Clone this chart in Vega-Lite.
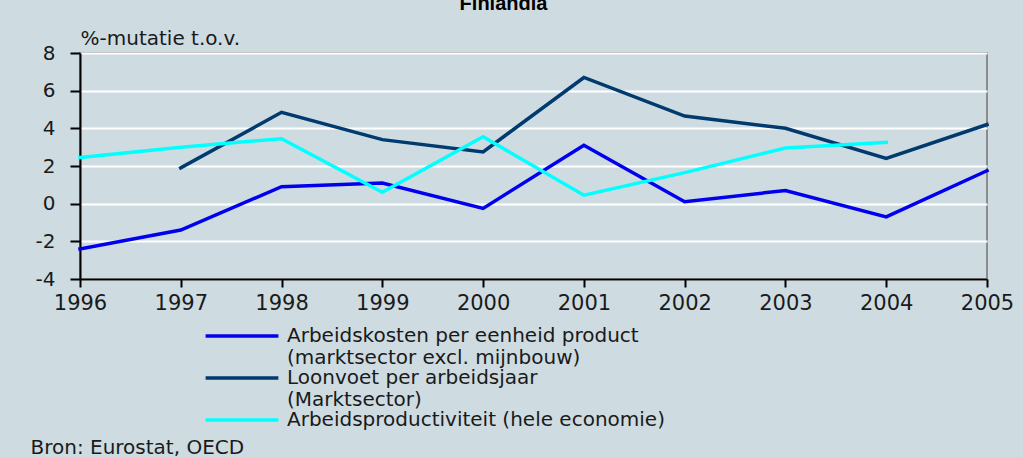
{
  "$schema": "https://vega.github.io/schema/vega-lite/v6.json",
  "width": 907,
  "height": 226,
  "autosize": {"type": "none"},
  "padding": {"left": 80, "top": 53, "right": 36, "bottom": 178},
  "background": "#cedce2",
  "title": {
    "text": "Finlandia",
    "font": "Liberation Sans",
    "fontSize": 20,
    "fontWeight": "bold",
    "color": "#000000",
    "anchor": "middle",
    "frame": "group",
    "dx": -30,
    "dy": -10
  },
  "config": {
    "view": {"fill": "#cedce2", "stroke": "#8c8c8c", "strokeWidth": 2},
    "font": "DejaVu Sans"
  },
  "data": {
    "values": [
      {"year": 1996, "series": "Arbeidskosten", "value": -2.4},
      {"year": 1997, "series": "Arbeidskosten", "value": -1.4},
      {"year": 1998, "series": "Arbeidskosten", "value": 0.9},
      {"year": 1999, "series": "Arbeidskosten", "value": 1.1},
      {"year": 2000, "series": "Arbeidskosten", "value": -0.25},
      {"year": 2001, "series": "Arbeidskosten", "value": 3.1},
      {"year": 2002, "series": "Arbeidskosten", "value": 0.1},
      {"year": 2003, "series": "Arbeidskosten", "value": 0.7},
      {"year": 2004, "series": "Arbeidskosten", "value": -0.7},
      {"year": 2005, "series": "Arbeidskosten", "value": 1.75},
      {"year": 1997, "series": "Loonvoet", "value": 1.9},
      {"year": 1998, "series": "Loonvoet", "value": 4.85},
      {"year": 1999, "series": "Loonvoet", "value": 3.4},
      {"year": 2000, "series": "Loonvoet", "value": 2.75},
      {"year": 2001, "series": "Loonvoet", "value": 6.7},
      {"year": 2002, "series": "Loonvoet", "value": 4.65},
      {"year": 2003, "series": "Loonvoet", "value": 4.0},
      {"year": 2004, "series": "Loonvoet", "value": 2.4},
      {"year": 2005, "series": "Loonvoet", "value": 4.2},
      {"year": 1996, "series": "Arbeidsproductiviteit", "value": 2.45},
      {"year": 1997, "series": "Arbeidsproductiviteit", "value": 3.0},
      {"year": 1998, "series": "Arbeidsproductiviteit", "value": 3.45},
      {"year": 1999, "series": "Arbeidsproductiviteit", "value": 0.6},
      {"year": 2000, "series": "Arbeidsproductiviteit", "value": 3.55},
      {"year": 2001, "series": "Arbeidsproductiviteit", "value": 0.45},
      {"year": 2002, "series": "Arbeidsproductiviteit", "value": 1.65},
      {"year": 2003, "series": "Arbeidsproductiviteit", "value": 2.95},
      {"year": 2004, "series": "Arbeidsproductiviteit", "value": 3.25}
    ]
  },
  "mark": {"type": "line", "strokeCap": "square", "strokeJoin": "miter"},
  "encoding": {
    "x": {
      "field": "year",
      "type": "quantitative",
      "scale": {"domain": [1996, 2005], "nice": false, "zero": false},
      "axis": {
        "values": [1996, 1997, 1998, 1999, 2000, 2001, 2002, 2003, 2004, 2005],
        "format": "d",
        "grid": false,
        "domainColor": "#000000",
        "domainWidth": 2,
        "tickColor": "#000000",
        "tickWidth": 2,
        "tickSize": 8,
        "labelFont": "DejaVu Sans",
        "labelFontSize": 21,
        "labelColor": "#1a1a1a",
        "labelPadding": 5,
        "labelFlush": false,
        "labelOverlap": false,
        "title": "Bron: Eurostat, OECD",
        "titleFont": "DejaVu Sans",
        "titleFontSize": 20,
        "titleFontWeight": "normal",
        "titleColor": "#1a1a1a",
        "titleAlign": "left",
        "titleBaseline": "middle",
        "titleAnchor": "start",
        "titleX": -50,
        "titleY": 168
      }
    },
    "y": {
      "field": "value",
      "type": "quantitative",
      "scale": {"domain": [-4, 8], "nice": false},
      "axis": {
        "values": [-4, -2, 0, 2, 4, 6, 8],
        "labelExpr": "toString(datum.value)",
        "grid": true,
        "gridColor": "#ffffff",
        "gridWidth": 2,
        "domainColor": "#000000",
        "domainWidth": 2,
        "tickColor": "#000000",
        "tickWidth": 2,
        "tickSize": 10,
        "labelFont": "DejaVu Sans",
        "labelFontSize": 20,
        "labelColor": "#1a1a1a",
        "labelPadding": 15,
        "labelFlush": false,
        "labelOverlap": false,
        "title": "%-mutatie t.o.v.",
        "titleFont": "DejaVu Sans",
        "titleFontSize": 20,
        "titleFontWeight": "normal",
        "titleColor": "#1a1a1a",
        "titleAngle": 0,
        "titleAlign": "left",
        "titleBaseline": "middle",
        "titleX": 0,
        "titleY": -15
      }
    },
    "color": {
      "field": "series",
      "type": "nominal",
      "scale": {
        "domain": ["Arbeidskosten", "Loonvoet", "Arbeidsproductiviteit"],
        "range": ["#0000ee", "#003a6e", "#00ffff"]
      },
      "legend": {
        "title": null,
        "orient": "none",
        "legendX": 152,
        "legendY": 273,
        "padding": 0,
        "direction": "vertical",
        "symbolType": "M-10,0H10",
        "symbolSize": 53,
        "symbolStrokeWidth": 3,
        "labelFont": "DejaVu Sans",
        "labelFontSize": 20,
        "labelColor": "#1a1a1a",
        "labelLimit": 800,
        "labelOffset": 35,
        "labelBaseline": "middle",
        "labelExpr": "datum.label == 'Arbeidskosten' ? ['Arbeidskosten per eenheid product', '(marktsector excl. mijnbouw)'] : datum.label == 'Loonvoet' ? ['Loonvoet per arbeidsjaar', '(Marktsector)'] : 'Arbeidsproductiviteit (hele economie)'",
        "rowPadding": -18,
        "encode": {
          "labels": {"update": {"lineHeight": {"value": 22}}},
          "symbols": {"update": {
            "strokeWidth": {"signal": "datum.value == 'Arbeidsproductiviteit' ? 5 : 3.5"}
          }}
        }
      }
    },
    "strokeWidth": {
      "field": "series",
      "type": "nominal",
      "scale": {
        "domain": ["Arbeidskosten", "Loonvoet", "Arbeidsproductiviteit"],
        "range": [3.5, 3.5, 5]
      },
      "legend": null
    }
  }
}
